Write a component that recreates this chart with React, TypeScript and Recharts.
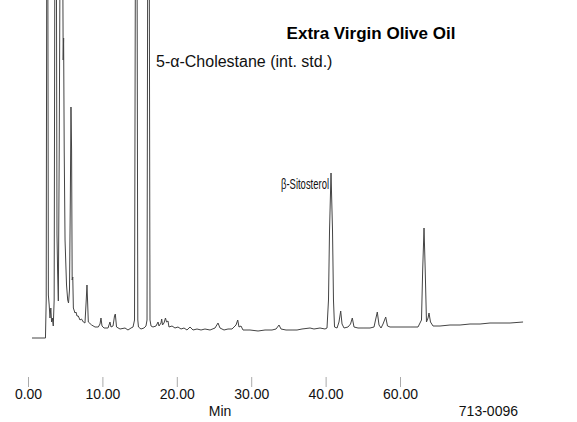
import React from "react";
import { LineChart, Line, XAxis, YAxis } from "recharts";

// retention time (min)
const times = [
  0.47, 2.28, 2.38, 2.46, 2.59, 2.67, 2.78, 2.89, 3.0, 3.1, 3.21, 3.33, 3.45, 3.55, 3.74, 3.83, 3.91, 4.01, 4.13,
  4.26, 4.58, 4.66, 4.72, 4.8, 4.91, 5.11, 5.27, 5.38, 5.51, 5.62, 5.71, 5.79, 5.87, 5.95, 6.03, 6.25, 6.38, 6.52,
  6.69, 6.92, 7.12, 7.37, 7.59, 7.76, 7.86, 7.96, 8.04, 8.49, 8.94, 9.38, 9.61, 9.74, 9.88, 10.15, 10.69, 10.95,
  11.09, 11.36, 11.56, 11.67, 11.83, 12.3, 12.97, 13.37, 13.78, 14.05, 14.25, 14.38, 14.58, 14.69, 14.78, 15.12,
  15.52, 15.79, 15.93, 16.03, 16.22, 16.33, 16.47, 16.73, 17.14, 17.41, 17.54, 17.81, 17.9, 18.01, 18.21, 18.41,
  18.55, 18.75, 18.88, 19.29, 19.69, 20.09, 20.5, 20.9, 21.3, 21.71, 22.11, 22.65, 23.19, 23.72, 24.4, 25.07,
  25.47, 25.74, 26.28, 26.81, 27.35, 27.62, 27.89, 28.12, 28.29, 28.56, 28.83, 29.77, 30.85, 31.79, 32.73, 33.27,
  33.67, 33.94, 34.61, 35.42, 36.09, 36.76, 37.84, 38.37, 39.18, 39.85, 40.12, 40.32, 40.46, 40.66, 40.86, 40.99,
  41.13, 41.47, 41.73, 41.96, 42.14, 42.41, 42.94, 43.28, 43.52, 43.75, 44.29, 45.09, 45.9, 46.44, 46.64, 46.88,
  47.11, 47.38, 47.65, 48.01, 48.25, 48.59, 49.93, 51.28, 52.35, 52.82, 52.98, 53.16, 53.32, 53.49, 53.7, 53.83,
  54.03, 54.37, 55.31, 56.65, 58.0, 59.34, 60.69, 62.03, 63.37, 64.72, 66.47,
];

// detector response
const signal = [
  0, 0, 38, 420, 420, 43, 33, 20, 30, 16, 20, 12, 38, 420, 420, 103, 68, 37, 188,
  420, 420, 278, 300, 188, 98, 53, 38, 35, 48, 138, 231, 188, 58, 61, 30, 25, 26, 22,
  22, 18, 19, 16, 15, 38, 53, 33, 16, 13, 11, 11, 14, 20, 12, 10, 10, 16,
  11, 12, 22, 24, 11, 9, 10, 8, 10, 11, 18, 420, 420, 18, 11, 9,
  10, 12, 18, 420, 420, 18, 12, 11, 12, 16, 12, 15, 19, 13, 15, 20,
  16, 17, 11, 12, 10, 11, 9, 10, 8, 11, 8, 9, 8, 9, 8, 10,
  15, 10, 8, 9, 9, 11, 13, 18, 11, 12, 8, 8, 7, 8, 8, 9,
  13, 9, 8, 8, 8, 9, 10, 9, 10, 9, 10, 38, 108, 165, 108, 38,
  11, 10, 16, 27, 14, 10, 11, 14, 20, 11, 10, 10, 10, 11, 18, 26,
  13, 10, 14, 21, 12, 11, 11, 11, 11, 18, 68, 110, 68, 16, 20, 25,
  16, 12, 12, 13, 13, 14, 14, 15, 15, 15, 16,
];

const tickValues = [0, 10, 20, 30, 40, 50];
const tickLabels = ["0.00", "10.00", "20.00", "30.00", "40.00", "60.00"];

const data = times.map((t, i) => ({ t, v: signal[i] }));

const font = "'Liberation Sans', Arial, sans-serif";

export default function App() {
  return (
    <div style={{ position: "absolute", left: 0, top: 0, width: 577, height: 422, background: "#fff" }}>
      <LineChart width={577} height={422} data={data} margin={{ top: 0, right: 50, bottom: 0, left: 28.5 }}>
        <XAxis
          dataKey="t"
          type="number"
          domain={[0, 67]}
          ticks={tickValues}
          tickFormatter={(v: number, i: number) => tickLabels[i]}
          axisLine={false}
          tickSize={10}
          tickMargin={2}
          height={45}
          tickLine={{ stroke: "#aaa" }}
          tick={{ fill: "#111", fontSize: 14, fontFamily: font }}
          interval={0}
        />
        <YAxis hide domain={[-39, 338]} allowDataOverflow />
        <Line
          type="linear"
          dataKey="v"
          stroke="#444"
          strokeWidth={1}
          dot={false}
          isAnimationActive={false}
        />
      </LineChart>
      <svg width={577} height={422} style={{ position: "absolute", left: 0, top: 0, pointerEvents: "none" }}>
        <text x={371} y={39} textAnchor="middle" fontFamily={font} fontWeight="bold" fontSize={17} fill="#000">
          Extra Virgin Olive Oil
        </text>
        <text x={156} y={67} fontFamily={font} fontSize={16} fill="#111">
          5-α-Cholestane (int. std.)
        </text>
        <text x={281} y={189} fontFamily={font} fontSize={15} fill="#111" textLength={48} lengthAdjust="spacingAndGlyphs">
          β-Sitosterol
        </text>
        <text x={220} y={416} textAnchor="middle" fontFamily={font} fontSize={14} fill="#111">
          Min
        </text>
        <text x={518} y={416} textAnchor="end" fontFamily={font} fontSize={14} fill="#111">
          713-0096
        </text>
      </svg>
    </div>
  );
}
